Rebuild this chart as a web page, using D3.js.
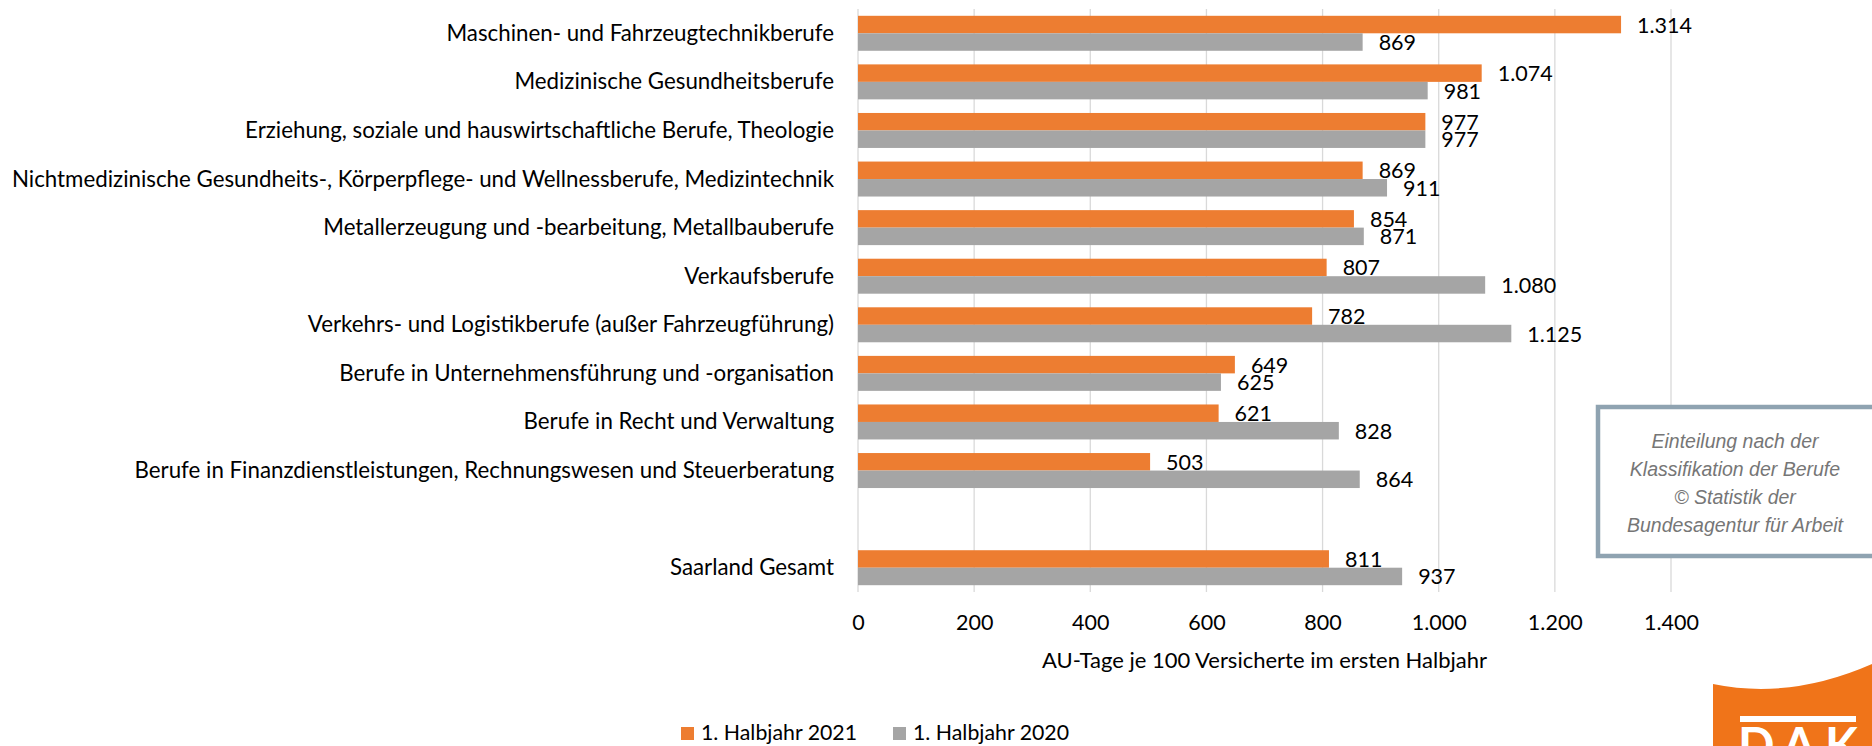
<!DOCTYPE html>
<meta charset="utf-8">
<style>
body { margin: 0; background: #fff; }
svg { display: block; }
text { font-family: Lato, "Open Sans", sans-serif; fill: #000; }
.grid line { stroke: #d9d9d9; stroke-width: 1.3px; }
.note text { font-family: "Liberation Sans", Arial, sans-serif; font-style: italic; fill: #767676; font-size: 19.5px; }
</style>
<svg width="1872" height="746"></svg>
<script src="https://d3js.org/d3.v7.min.js"></script>
<script>

// categories, top to bottom ("" = empty slot before the total)
var categories = [
  "Maschinen- und Fahrzeugtechnikberufe",
  "Medizinische Gesundheitsberufe",
  "Erziehung, soziale und hauswirtschaftliche Berufe, Theologie",
  "Nichtmedizinische Gesundheits-, Körperpflege- und Wellnessberufe, Medizintechnik",
  "Metallerzeugung und -bearbeitung, Metallbauberufe",
  "Verkaufsberufe",
  "Verkehrs- und Logistikberufe (außer Fahrzeugführung)",
  "Berufe in Unternehmensführung und -organisation",
  "Berufe in Recht und Verwaltung",
  "Berufe in Finanzdienstleistungen, Rechnungswesen und Steuerberatung",
  "",
  "Saarland Gesamt"
];
var values2021 = [1314, 1074, 977, 869, 854, 807, 782, 649, 621, 503, null, 811];
var values2020 = [869, 981, 977, 911, 871, 1080, 1125, 625, 828, 864, null, 937];
var seriesNames = ["1. Halbjahr 2021", "1. Halbjahr 2020"];
var seriesColors = ["#ed7d31", "#a5a5a5"];
var xTicks = [0, 200, 400, 600, 800, 1000, 1200, 1400];
var xTitle = "AU-Tage je 100 Versicherte im ersten Halbjahr";
var noteLines = ["Einteilung nach der", "Klassifikation der Berufe", "© Statistik der", "Bundesagentur für Arbeit"];

var svg = d3.select("svg");

var de = d3.formatLocale({decimal: ",", thousands: ".", grouping: [3], currency: ["", " €"]});
var fmt = de.format(",d");

var slots = categories.map(function(c, i) { return "s" + i; });

var x = d3.scaleLinear().domain([0, 1400]).range([858, 1671]);
var y = d3.scaleBand().domain(slots).range([9, 592])
    .paddingInner(0.28).paddingOuter(0.14);
var sub = d3.scaleBand().domain([0, 1]).range([0, y.bandwidth()]);

// grid lines
svg.append("g")
    .attr("class", "grid")
  .selectAll("line")
  .data(xTicks)
  .enter().append("line")
    .attr("x1", function(d) { return x(d); })
    .attr("x2", function(d) { return x(d); })
    .attr("y1", 9)
    .attr("y2", 592);

// bars
var rows = categories.map(function(c, i) {
  return {slot: slots[i], name: c, vals: [values2021[i], values2020[i]]};
}).filter(function(r) { return r.vals[0] != null; });

var group = svg.append("g").selectAll("g")
  .data(rows)
  .enter().append("g")
    .attr("transform", function(d) { return "translate(0," + y(d.slot) + ")"; });

var cells = group.selectAll("g")
  .data(function(d) { return d.vals.map(function(v, k) { return {v: v, k: k}; }); })
  .enter().append("g");

cells.append("rect")
    .attr("x", x(0))
    .attr("y", function(d) { return sub(d.k); })
    .attr("width", function(d) { return x(d.v) - x(0); })
    .attr("height", sub.bandwidth())
    .attr("fill", function(d) { return seriesColors[d.k]; });

cells.append("text")
    .attr("x", function(d) { return x(d.v) + 16; })
    .attr("y", function(d) { return sub(d.k) + sub.bandwidth() / 2 + 8; })
    .attr("font-size", 21.5)
    .text(function(d) { return fmt(d.v); });

// category labels
svg.append("g").selectAll("text")
  .data(rows)
  .enter().append("text")
    .attr("x", 834)
    .attr("y", function(d) { return y(d.slot) + y.bandwidth() / 2 + 7.5; })
    .attr("text-anchor", "end")
    .attr("font-size", 22.3)
    .text(function(d) { return d.name; });

// x axis labels
var xAxis = d3.axisBottom(x).tickValues(xTicks).tickFormat(fmt).tickSize(0).tickPadding(0);
var ax = svg.append("g")
    .attr("transform", "translate(0,630)")
    .call(xAxis);
ax.select(".domain").remove();
ax.selectAll("text")
    .attr("dy", 0)
    .attr("y", 0)
    .attr("fill", "#000")
    .style("font-family", "Lato, sans-serif")
    .style("font-size", "21.5px");

svg.append("text")
    .attr("x", (x(0) + x(1400)) / 2)
    .attr("y", 668)
    .attr("text-anchor", "middle")
    .attr("font-size", 22)
    .text(xTitle);

// legend
var legendX = [681, 893];
var legend = svg.append("g").selectAll("g")
  .data(seriesNames)
  .enter().append("g")
    .attr("transform", function(d, i) { return "translate(" + legendX[i] + ",727)"; });
legend.append("rect")
    .attr("width", 13)
    .attr("height", 13)
    .attr("fill", function(d, i) { return seriesColors[i]; });
legend.append("text")
    .attr("x", 20)
    .attr("y", 13)
    .attr("font-size", 21.3)
    .text(function(d) { return d; });

// note box
var note = svg.append("g").attr("class", "note");
note.append("rect")
    .attr("x", 1598)
    .attr("y", 407)
    .attr("width", 278)
    .attr("height", 149)
    .attr("fill", "#fff")
    .attr("stroke", "#8fa3b1")
    .attr("stroke-width", 4.5);
note.selectAll("text")
  .data(noteLines)
  .enter().append("text")
    .attr("x", 1735)
    .attr("y", function(d, i) { return 448 + i * 28; })
    .attr("text-anchor", "middle")
    .text(function(d) { return d; });

// logo corner
var logo = svg.append("g");
logo.append("path")
    .attr("d", "M1713,684 Q1790,700 1872,664 L1872,746 L1713,746 Z")
    .attr("fill", "#f07419");
logo.append("rect")
    .attr("x", 1740)
    .attr("y", 716)
    .attr("width", 116)
    .attr("height", 6)
    .attr("fill", "#fff");
logo.append("text")
    .attr("x", 1738)
    .attr("y", 762)
    .attr("font-size", 48)
    .attr("font-weight", "bold")
    .attr("textLength", 120)
    .style("fill", "#fff")
    .text("DAK");

</script>
